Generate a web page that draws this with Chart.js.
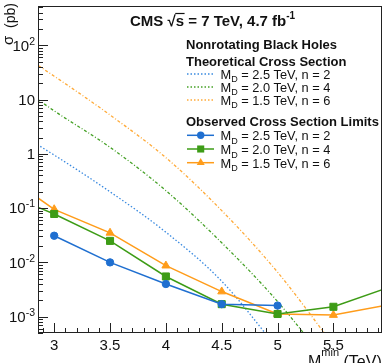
<!DOCTYPE html>
<html><head><meta charset="utf-8">
<script src="https://cdn.jsdelivr.net/npm/chart.js@4/dist/chart.umd.min.js"></script>
<style>html,body{margin:0;padding:0;background:#fff;overflow:hidden}#wrap{width:388px;height:363px;position:relative}</style>
</head><body><div id="wrap"><canvas id="c" width="388" height="363"></canvas></div>
<script>
// ---- data ----
const xTheory = [2.5, 3.0, 3.5, 4.0, 4.5, 5.0, 5.5];
const theoryBlue = [4.0, 0.95, 0.20, 0.036, 0.0045, 0.00026, null];
const theoryGreen = [33, 6.2, 1.32, 0.21, 0.023, 0.0019, 0.0001];
const theoryOrange = [127, 27, 5.2, 0.85, 0.09, 0.0066, 0.0003];
const xObserved = [2.5, 3.0, 3.5, 4.0, 4.5, 5.0, 5.5, 6.0];
const obsBlue = [null, 0.031, 0.010, 0.0040, 0.0017, 0.0016, null, null];
const obsGreen = [0.21, 0.078, 0.0249, 0.0055, 0.0017, 0.00112, 0.00152, 0.0035];
const obsOrange = [0.50, 0.095, 0.035, 0.0087, 0.0029, 0.00112, 0.00107, 0.00166];
const xTicks = [3, 3.5, 4, 4.5, 5, 5.5];
const xTickLabels = ['3', '3.5', '4', '4.5', '5', '5.5'];
const yTicks = [1e-3, 1e-2, 1e-1, 1, 10, 100];
const yTickLabels = [['10', '-3'], ['10', '-2'], ['10', '-1'], ['1', ''], ['10', ''], ['10', '2']];
const seriesMD = ['2.5', '2.0', '1.5'];
const seriesN = ['2', '4', '6'];
const titleText = 'CMS';
const legendHeader = 'Nonrotating Black Holes';
const theoryHeader = 'Theoretical Cross Section';
const observedHeader = 'Observed Cross Section Limits';

const FONT = '"Liberation Sans", Arial, Helvetica, sans-serif';
const colObs = ['#1f6fd0', '#3d9c16', '#ff9c1a'];
const colTh = ['#3a8ae0', '#45a126', '#ffaa38'];
const dashTh = [[1.5, 2], [3, 2, 1, 2], [3, 2, 1, 2]];
const ptStyle = ['circle', 'rect', 'triangle'];
const ptRad = [3.7, 5, 4.6];

function pts(xs, ys) {
  const out = [];
  xs.forEach((x, i) => { if (ys[i] !== null) out.push({ x: x, y: ys[i] }); });
  return out;
}

const obsData = [obsBlue, obsGreen, obsOrange];
const thData = [theoryBlue, theoryGreen, theoryOrange];
const datasets = [];
obsData.forEach((d, i) => datasets.push({
  data: pts(xObserved, d), borderColor: colObs[i], backgroundColor: colObs[i],
  borderWidth: 1.5, pointStyle: ptStyle[i], pointRadius: ptRad[i], pointBorderWidth: 1,
  tension: 0, clip: 0, order: 0
}));
thData.forEach((d, i) => datasets.push({
  data: pts(xTheory, d), borderColor: colTh[i], borderWidth: 1.3, borderDash: dashTh[i],
  pointRadius: 0, cubicInterpolationMode: 'monotone', clip: 0, order: 1
}));

function drawRuns(ctx, x, y, parts) {
  let cx = x;
  for (const p of parts) {
    ctx.font = (p.b ? 'bold ' : '') + p.s + 'px ' + FONT;
    ctx.fillText(p.t, cx, y + (p.dy || 0));
    cx += ctx.measureText(p.t).width;
  }
  return cx;
}
function runsWidth(ctx, parts) {
  let w = 0;
  for (const p of parts) { ctx.font = (p.b ? 'bold ' : '') + p.s + 'px ' + FONT; w += ctx.measureText(p.t).width; }
  return w;
}
function marker(ctx, style, r, x, y, color) {
  ctx.save(); ctx.fillStyle = color; ctx.beginPath();
  if (style === 'circle') ctx.arc(x, y, r, 0, Math.PI * 2);
  else if (style === 'rect') { const s = r * Math.SQRT1_2; ctx.rect(x - s, y - s, 2 * s, 2 * s); }
  else { const h = r * 1.5, s = r * 1.5 * 2 / Math.sqrt(3); ctx.moveTo(x - s / 2, y + h / 3); ctx.lineTo(x + s / 2, y + h / 3); ctx.lineTo(x, y - 2 * h / 3); ctx.closePath(); }
  ctx.fill(); ctx.restore();
}

const decor = {
  id: 'decor',
  afterDatasetsDraw(chart) {
    const ctx = chart.ctx, a = chart.chartArea, xs = chart.scales.x, ys = chart.scales.y;
    ctx.save();
    ctx.strokeStyle = '#222'; ctx.lineWidth = 1;
    // frame
    ctx.strokeRect(Math.round(a.left) + 0.5, Math.round(a.top) + 0.5, Math.round(a.right - a.left) - 1, Math.round(a.bottom - a.top) - 1);
    // x ticks
    ctx.beginPath();
    for (let k = 28; k <= 59; k++) {
      const v = k / 10; if (v < xs.min || v > xs.max) continue;
      const px = Math.round(xs.getPixelForValue(v)) + 0.5;
      const len = (k % 5 === 0) ? 10 : 5;
      ctx.moveTo(px, a.bottom); ctx.lineTo(px, a.bottom - len);
    }
    // y ticks
    for (let e = -4; e <= 3; e++) {
      for (let m = 1; m <= 9; m++) {
        const v = m * Math.pow(10, e); if (v < ys.min || v > ys.max) continue;
        const py = Math.round(ys.getPixelForValue(v)) + 0.5;
        const len = (m === 1) ? 10 : 5;
        ctx.moveTo(a.left, py); ctx.lineTo(a.left + len, py);
      }
    }
    ctx.stroke();
    ctx.fillStyle = '#111'; ctx.textBaseline = 'alphabetic'; ctx.textAlign = 'left';
    // x tick labels
    xTicks.forEach((v, i) => {
      ctx.font = '15px ' + FONT;
      const w = ctx.measureText(xTickLabels[i]).width;
      ctx.fillText(xTickLabels[i], xs.getPixelForValue(v) - w / 2, 349.5);
    });
    // y tick labels
    yTicks.forEach((v, i) => {
      const py = ys.getPixelForValue(v);
      const parts = [{ t: yTickLabels[i][0], s: 15 }];
      if (yTickLabels[i][1]) parts.push({ t: yTickLabels[i][1], s: 10.5, dy: -6 });
      const w = runsWidth(ctx, parts);
      drawRuns(ctx, 35 - w, py + 5.3, parts);
    });
    // y title
    ctx.save(); ctx.translate(15, 3); ctx.rotate(-Math.PI / 2);
    ctx.font = '14px ' + FONT; ctx.textAlign = 'right'; ctx.fillText('(pb)', 0, 0);
    ctx.restore();
    ctx.save(); ctx.translate(12.5, 45); ctx.rotate(-Math.PI / 2);
    ctx.font = '15px ' + FONT; ctx.textAlign = 'left'; ctx.fillText('σ', 0, 0);
    ctx.restore();
    // x title
    drawRuns(ctx, 308, 366.5, [{ t: 'M', s: 16 }, { t: 'min', s: 11, dy: -10.5 }, { t: ' (TeV)', s: 16 }]);
    // title
    let x = drawRuns(ctx, 130, 25.5, [{ t: titleText + ' ', s: 15, b: 1 }]);
    x = drawRuns(ctx, x, 25.5, [{ t: '√', s: 15, b: 1 }]);
    const sx = x;
    x = drawRuns(ctx, x, 25.5, [{ t: 's', s: 15, b: 1 }]);
    ctx.beginPath(); ctx.lineWidth = 1.2; ctx.strokeStyle = '#111';
    ctx.moveTo(sx - 0.5, 13.5); ctx.lineTo(x + 0.5, 13.5); ctx.stroke();
    drawRuns(ctx, x, 25.5, [{ t: ' = 7 TeV, 4.7 fb', s: 15, b: 1 }, { t: '-1', s: 10, b: 1, dy: -6.5 }]);
    // legend
    drawRuns(ctx, 186, 48.5, [{ t: legendHeader, s: 13, b: 1 }]);
    drawRuns(ctx, 186, 66.3, [{ t: theoryHeader, s: 13, b: 1 }]);
    drawRuns(ctx, 186, 126.3, [{ t: observedHeader, s: 13, b: 1 }]);
    const thBase = [78.5, 91.5, 104.5], obBase = [140.3, 154, 167.7];
    for (let i = 0; i < 3; i++) {
      const label = [{ t: 'M', s: 12.8 }, { t: 'D', s: 9, dy: 3.5 }, { t: ' = ' + seriesMD[i] + ' TeV, n = ' + seriesN[i], s: 12.8 }];
      // theory
      ctx.save(); ctx.strokeStyle = colTh[i]; ctx.lineWidth = 1.3; ctx.setLineDash([1.5, 2]);
      ctx.beginPath(); ctx.moveTo(187, thBase[i] - 4.5); ctx.lineTo(214, thBase[i] - 4.5); ctx.stroke(); ctx.restore();
      ctx.fillStyle = '#111';
      drawRuns(ctx, 220.5, thBase[i], label);
      // observed
      const my = obBase[i] - 5;
      ctx.save(); ctx.strokeStyle = colObs[i]; ctx.lineWidth = 1.5;
      ctx.beginPath(); ctx.moveTo(187, my); ctx.lineTo(214, my); ctx.stroke(); ctx.restore();
      marker(ctx, ptStyle[i], ptRad[i], 200.7, my, colObs[i]);
      ctx.fillStyle = '#111';
      drawRuns(ctx, 220.5, obBase[i], label);
    }
    ctx.restore();
  }
};

new Chart(document.getElementById('c'), {
  type: 'line',
  data: { datasets: datasets },
  options: {
    responsive: false, animation: false, devicePixelRatio: 1,
    layout: { padding: { left: 38, top: 3, right: 4, bottom: 30 } },
    plugins: { legend: { display: false }, tooltip: { enabled: false } },
    scales: {
      x: { type: 'linear', min: 2.855, max: 5.935, display: false },
      y: { type: 'logarithmic', min: 5e-4, max: 530, display: false }
    }
  },
  plugins: [decor]
});
</script></body></html>
